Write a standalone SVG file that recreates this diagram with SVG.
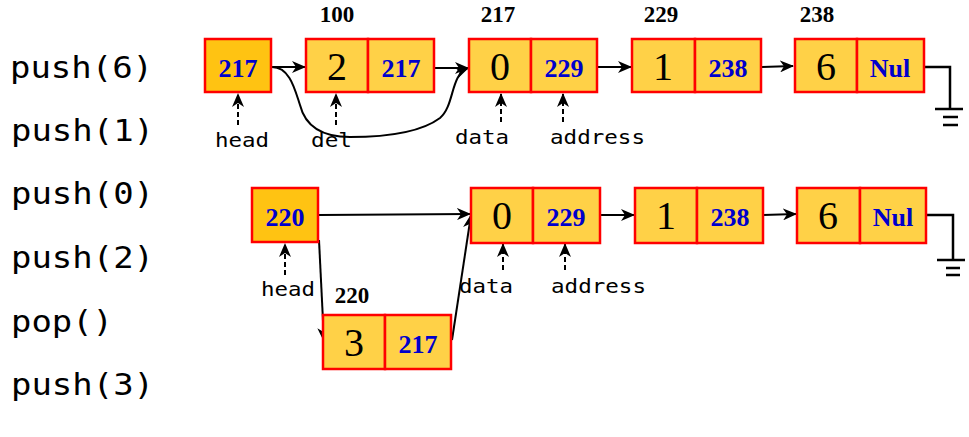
<svg xmlns="http://www.w3.org/2000/svg" width="969" height="437" viewBox="0 0 969 437">
<defs>
<style>
.cell{fill:#FFD147;stroke:#FF0000;stroke-width:2.5}
.hcell{fill:#FFC312;stroke:#FF0000;stroke-width:2.5}
.val{font-family:"Liberation Serif",serif;font-size:40px;fill:#000;text-anchor:middle}
.ptr{font-family:"Liberation Serif",serif;font-size:26px;font-weight:bold;fill:#0000CC;text-anchor:middle}
.addr{font-family:"Liberation Serif",serif;font-size:23px;font-weight:bold;fill:#000;text-anchor:middle}
.op{font-family:"DejaVu Sans Mono",monospace;font-size:31px;fill:#000}
.lbl{font-family:"DejaVu Sans Mono",monospace;font-size:20px;fill:#000}
.con{fill:none;stroke:#000;stroke-width:2;marker-end:url(#arr)}
.dash{fill:none;stroke:#000;stroke-width:2;stroke-dasharray:5,3;marker-end:url(#arr)}
.gnd{fill:none;stroke:#000;stroke-width:2.5}
</style>
<marker id="arr" markerUnits="userSpaceOnUse" markerWidth="14" markerHeight="12" viewBox="0 0 14 12" refX="13" refY="6" orient="auto">
<path d="M0,0 L14,6 L0,12 L4,6 Z" fill="#000"/>
</marker>
</defs>

<g id="ops">
<text class="op" x="10" y="78" textLength="143" lengthAdjust="spacingAndGlyphs">push(6)</text>
<text class="op" x="11" y="141" textLength="143" lengthAdjust="spacingAndGlyphs">push(1)</text>
<text class="op" x="11" y="204" textLength="143" lengthAdjust="spacingAndGlyphs">push(0)</text>
<text class="op" x="11" y="268" textLength="143" lengthAdjust="spacingAndGlyphs">push(2)</text>
<text class="op" x="11" y="332" textLength="102" lengthAdjust="spacingAndGlyphs">pop()</text>
<text class="op" x="11" y="395" textLength="143" lengthAdjust="spacingAndGlyphs">push(3)</text>
</g>

<g id="connectors">
<path class="con" d="M272,67 L305,67"/>
<path class="con" d="M272,67 C290,67 295,90 300,105 C305,125 320,137 350,137 C385,137 420,133 440,118 C455,105 450,75 468,68"/>
<path class="con" d="M435,68 L468,68"/>
<path class="con" d="M597,67 L631,67"/>
<path class="con" d="M761,67 L793,66"/>
<path class="gnd" d="M924,67 H950 V109 M935,109 H963 M943,117 H958 M943,125 H958"/>
<path class="dash" d="M238,125 V94"/>
<path class="dash" d="M336,125 V94"/>
<path class="dash" d="M501,122 V94"/>
<path class="dash" d="M563,122 V94"/>

<path class="con" d="M319,215 L470,214"/>
<path class="con" d="M319,240 L324,341"/>
<path class="con" d="M452,340 L471,215"/>
<path class="con" d="M600,215 L634,215"/>
<path class="con" d="M763,215 L796,214"/>
<path class="gnd" d="M926,215 H953 V260 M937,260 H965 M946,268 H960 M946,275 H960"/>
<path class="dash" d="M285,275 V244"/>
<path class="dash" d="M503,270 V244"/>
<path class="dash" d="M565,270 V244"/>
</g>

<g id="addr-labels">
<text class="addr" x="337" y="22">100</text>
<text class="addr" x="498" y="22">217</text>
<text class="addr" x="661" y="22">229</text>
<text class="addr" x="817" y="22">238</text>
<text class="addr" x="352" y="303">220</text>
</g>

<g id="head1">
<rect class="hcell" x="205" y="39" width="66" height="53"/>
<text class="ptr" x="238" y="77">217</text>
</g>
<g id="node-100">
<rect class="cell" x="306" y="39" width="62" height="53"/>
<rect class="cell" x="368" y="39" width="66" height="53"/>
<text class="val" x="337" y="80">2</text>
<text class="ptr" x="401" y="77">217</text>
</g>
<g id="node-217">
<rect class="cell" x="469" y="39" width="62" height="53"/>
<rect class="cell" x="531" y="39" width="66" height="53"/>
<text class="val" x="500" y="80">0</text>
<text class="ptr" x="564" y="77">229</text>
</g>
<g id="node-229">
<rect class="cell" x="632" y="39" width="63" height="53"/>
<rect class="cell" x="695" y="39" width="66" height="53"/>
<text class="val" x="663" y="80">1</text>
<text class="ptr" x="728" y="77">238</text>
</g>
<g id="node-238">
<rect class="cell" x="795" y="39" width="62" height="53"/>
<rect class="cell" x="857" y="39" width="67" height="53"/>
<text class="val" x="826" y="80">6</text>
<text class="ptr" x="890" y="77">Nul</text>
</g>

<g id="labels1">
<text class="lbl" x="215" y="147" textLength="54" lengthAdjust="spacingAndGlyphs">head</text>
<text class="lbl" x="311" y="147" textLength="41" lengthAdjust="spacingAndGlyphs">del</text>
<text class="lbl" x="455" y="144" textLength="54" lengthAdjust="spacingAndGlyphs">data</text>
<text class="lbl" x="550" y="144" textLength="95" lengthAdjust="spacingAndGlyphs">address</text>
</g>

<g id="head2">
<rect class="hcell" x="252" y="188" width="66" height="54"/>
<text class="ptr" x="285" y="226">220</text>
</g>
<g id="node-220">
<rect class="cell" x="323" y="315" width="62" height="54"/>
<rect class="cell" x="385" y="315" width="66" height="54"/>
<text class="val" x="354" y="356">3</text>
<text class="ptr" x="418" y="353">217</text>
</g>
<g id="node2-217">
<rect class="cell" x="471" y="188" width="62" height="55"/>
<rect class="cell" x="533" y="188" width="67" height="55"/>
<text class="val" x="502" y="229">0</text>
<text class="ptr" x="566" y="226">229</text>
</g>
<g id="node2-229">
<rect class="cell" x="635" y="188" width="62" height="55"/>
<rect class="cell" x="697" y="188" width="66" height="55"/>
<text class="val" x="666" y="229">1</text>
<text class="ptr" x="730" y="226">238</text>
</g>
<g id="node2-238">
<rect class="cell" x="797" y="188" width="63" height="55"/>
<rect class="cell" x="860" y="188" width="66" height="55"/>
<text class="val" x="828" y="229">6</text>
<text class="ptr" x="893" y="226">Nul</text>
</g>

<g id="labels2">
<text class="lbl" x="261" y="296" textLength="54" lengthAdjust="spacingAndGlyphs">head</text>
<text class="lbl" x="459" y="293" textLength="54" lengthAdjust="spacingAndGlyphs">data</text>
<text class="lbl" x="551" y="293" textLength="95" lengthAdjust="spacingAndGlyphs">address</text>
</g>
</svg>
